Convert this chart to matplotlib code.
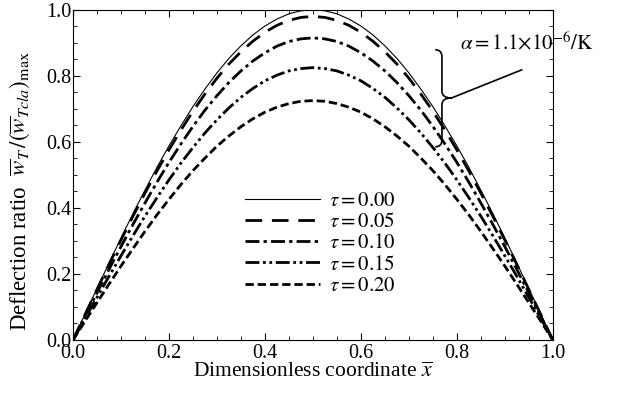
import numpy as np
import matplotlib
matplotlib.use("Agg")
import matplotlib.pyplot as plt
from matplotlib.path import Path
from matplotlib.patches import PathPatch
from matplotlib.ticker import MultipleLocator

plt.rcParams['font.family'] = ['Liberation Serif', 'DejaVu Serif']
plt.rcParams['mathtext.fontset'] = 'stix'

# dimensionless coordinate (step 0.025)
x = [0.000, 0.025, 0.050, 0.075, 0.100, 0.125, 0.150, 0.175, 0.200, 0.225,
     0.250, 0.275, 0.300, 0.325, 0.350, 0.375, 0.400, 0.425, 0.450, 0.475,
     0.500, 0.525, 0.550, 0.575, 0.600, 0.625, 0.650, 0.675, 0.700, 0.725,
     0.750, 0.775, 0.800, 0.825, 0.850, 0.875, 0.900, 0.925, 0.950, 0.975, 1.000]

# deflection ratio
w_000 = [0, 0.079, 0.156, 0.233, 0.309, 0.383, 0.454, 0.523, 0.588, 0.649,
         0.707, 0.760, 0.809, 0.853, 0.891, 0.924, 0.951, 0.972, 0.988, 0.997,
         1.000, 0.997, 0.988, 0.972, 0.951, 0.924, 0.891, 0.853, 0.809, 0.760,
         0.707, 0.649, 0.588, 0.523, 0.454, 0.383, 0.309, 0.233, 0.156, 0.079, 0]
w_005 = [0, 0.077, 0.153, 0.229, 0.303, 0.375, 0.445, 0.512, 0.576, 0.636,
         0.693, 0.745, 0.793, 0.836, 0.873, 0.905, 0.932, 0.953, 0.968, 0.977,
         0.980, 0.977, 0.968, 0.953, 0.932, 0.905, 0.873, 0.836, 0.793, 0.745,
         0.693, 0.636, 0.576, 0.512, 0.445, 0.375, 0.303, 0.229, 0.153, 0.077, 0]
w_010 = [0, 0.072, 0.143, 0.214, 0.283, 0.350, 0.415, 0.478, 0.538, 0.594,
         0.647, 0.696, 0.740, 0.780, 0.815, 0.845, 0.870, 0.890, 0.904, 0.912,
         0.915, 0.912, 0.904, 0.890, 0.870, 0.845, 0.815, 0.780, 0.740, 0.696,
         0.647, 0.594, 0.538, 0.478, 0.415, 0.350, 0.283, 0.214, 0.143, 0.072, 0]
w_015 = [0, 0.065, 0.129, 0.193, 0.255, 0.316, 0.375, 0.431, 0.485, 0.536,
         0.583, 0.627, 0.667, 0.703, 0.735, 0.762, 0.785, 0.802, 0.815, 0.822,
         0.825, 0.822, 0.815, 0.802, 0.785, 0.762, 0.735, 0.703, 0.667, 0.627,
         0.583, 0.536, 0.485, 0.431, 0.375, 0.316, 0.255, 0.193, 0.129, 0.065, 0]
w_020 = [0, 0.057, 0.113, 0.169, 0.224, 0.277, 0.329, 0.379, 0.426, 0.471,
         0.513, 0.551, 0.587, 0.618, 0.646, 0.670, 0.690, 0.705, 0.716, 0.723,
         0.725, 0.723, 0.716, 0.705, 0.690, 0.670, 0.646, 0.618, 0.587, 0.551,
         0.513, 0.471, 0.426, 0.379, 0.329, 0.277, 0.224, 0.169, 0.113, 0.057, 0]

labels = [r'$\tau = 0.00$', r'$\tau = 0.05$', r'$\tau = 0.10$',
          r'$\tau = 0.15$', r'$\tau = 0.20$']
series = [w_000, w_005, w_010, w_015, w_020]
styles = [dict(lw=0.8, ls='-'),
          dict(lw=2.0, ls=(0, (6, 3.5))),
          dict(lw=2.0, ls=(0, (5, 1.5, 1.2, 1.5))),
          dict(lw=2.0, ls=(0, (5, 1.3, 1, 1.3, 1, 1.3))),
          dict(lw=2.0, ls=(0, (3, 1.4)))]

fig = plt.figure(figsize=(6.19, 3.93), dpi=100)
ax = fig.add_axes([0.118, 0.135, 0.775, 0.84])

for w, lab, st in zip(series, labels, styles):
    ax.plot(x, w, color='black', label=lab, **st)

ax.set_xlim(0, 1)
ax.set_ylim(0, 1)
ax.xaxis.set_major_locator(MultipleLocator(0.2))
ax.xaxis.set_minor_locator(MultipleLocator(0.05))
ax.yaxis.set_major_locator(MultipleLocator(0.2))
ax.yaxis.set_minor_locator(MultipleLocator(0.05))
ax.tick_params(which='both', direction='in', top=True, right=True, labelsize=14.5)
ax.tick_params(axis='x', pad=3)
ax.tick_params(axis='y', pad=1)
ax.tick_params(which='major', length=5)
ax.tick_params(which='minor', length=3)
ax.xaxis.set_major_formatter(plt.FormatStrFormatter('%.1f'))
ax.yaxis.set_major_formatter(plt.FormatStrFormatter('%.1f'))

ax.set_xlabel(r'Dimensionless coordinate $\overline{x}$', fontsize=15.5, labelpad=0)
ax.set_ylabel(r'Deflection ratio  $\overline{w}_T\,/\left(\overline{w}_{Tcla}\right)_{\max}$',
              fontsize=16.5)
ax.yaxis.set_label_coords(-0.085, 0.45)

ax.legend(loc='upper left', bbox_to_anchor=(0.358, 0.45), frameon=False, fontsize=15,
          handlelength=3.6, handletextpad=0.45, labelspacing=0.08, borderpad=0,
          borderaxespad=0)

# curly brace for the alpha annotation (axes coordinates)
bx, top, bot, mid = 0.769, 0.879, 0.585, 0.733
c, cm = 0.014, 0.02
verts = [(bx - c, top), (bx, top), (bx, top - c * 1.5),
         (bx, mid + cm), (bx, mid), (bx + cm, mid),
         (bx, mid), (bx, mid - cm), (bx, bot + c * 1.5),
         (bx, bot), (bx - c, bot)]
codes = [Path.MOVETO, Path.CURVE3, Path.CURVE3,
         Path.LINETO, Path.CURVE3, Path.CURVE3,
         Path.CURVE3, Path.CURVE3, Path.LINETO,
         Path.CURVE3, Path.CURVE3]
ax.add_patch(PathPatch(Path(verts, codes), fill=False, lw=1.2,
                       transform=ax.transAxes))
ax.plot([bx + cm, 0.935], [mid, 0.818], color='black', lw=1.2, transform=ax.transAxes)
ax.text(0.806, 0.9, r'$\alpha = 1.1{\times}10^{-6}/\mathrm{K}$', fontsize=15,
        transform=ax.transAxes, ha='left', va='center')

fig.savefig('out.png', dpi=100)
